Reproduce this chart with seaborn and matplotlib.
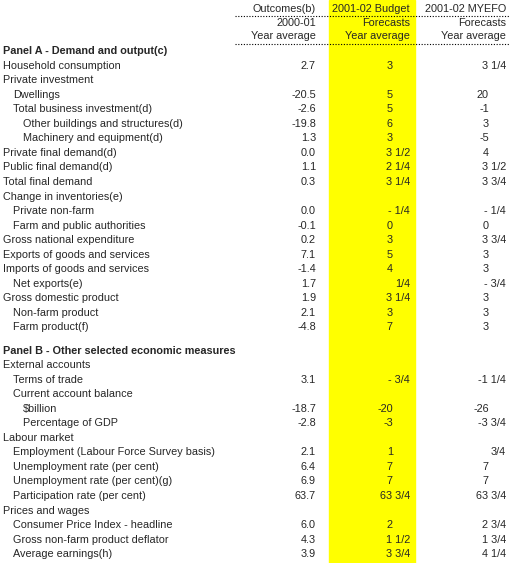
import matplotlib
matplotlib.use("Agg")
import matplotlib.pyplot as plt
import seaborn as sns

sns.set_theme(style="white")
plt.rcParams["font.family"] = ["Liberation Sans", "DejaVu Sans"]

# Row labels, indent level, and the three value columns
labels = [
    "Panel A - Demand and output(c)", "Household consumption", "Private investment",
    "Dwellings", "Total business investment(d)", "Other buildings and structures(d)",
    "Machinery and equipment(d)", "Private final demand(d)", "Public final demand(d)",
    "Total final demand", "Change in inventories(e)", "Private non-farm",
    "Farm and public authorities", "Gross national expenditure",
    "Exports of goods and services", "Imports of goods and services", "Net exports(e)",
    "Gross domestic product", "Non-farm product", "Farm product(f)", "",
    "Panel B - Other selected economic measures", "External accounts", "Terms of trade",
    "Current account balance", "$billion", "Percentage of GDP", "Labour market",
    "Employment (Labour Force Survey basis)", "Unemployment rate (per cent)",
    "Unemployment rate (per cent)(g)", "Participation rate (per cent)",
    "Prices and wages", "Consumer Price Index - headline",
    "Gross non-farm product deflator", "Average earnings(h)",
]
indent = [0, 0, 0, 1, 1, 2, 2, 0, 0, 0, 0, 1, 1, 0, 0, 0, 1, 0, 1, 1, 0,
          0, 0, 1, 1, 2, 2, 0, 1, 1, 1, 1, 0, 1, 1, 1]
outcomes = ["", "2.7", "", "-20.5", "-2.6", "-19.8", "1.3", "0.0", "1.1", "0.3", "",
            "0.0", "-0.1", "0.2", "7.1", "-1.4", "1.7", "1.9", "2.1", "-4.8", "",
            "", "", "3.1", "", "-18.7", "-2.8", "", "2.1", "6.4", "6.9", "63.7", "",
            "6.0", "4.3", "3.9"]
budget = ["", "3", "", "5", "5", "6", "3", "3 1/2", "2 1/4", "3 1/4", "",
          "- 1/4", "0", "3", "5", "4", "1/4", "3 1/4", "3", "7", "",
          "", "", "- 3/4", "", "-20", "-3", "", "1", "7", "7", "63 3/4", "",
          "2", "1 1/2", "3 3/4"]
myefo = ["", "3 1/4", "", "20", "-1", "3", "-5", "4", "3 1/2", "3 3/4", "",
         "- 1/4", "0", "3 3/4", "3", "3", "- 3/4", "3", "3", "3", "",
         "", "", "-1 1/4", "", "-26", "-3 3/4", "", "3/4", "7", "7", "63 3/4", "",
         "2 3/4", "1 3/4", "4 1/4"]
header1 = ["Outcomes(b)", "2001-02 Budget", "2001-02 MYEFO"]
header2 = ["2000-01", "Forecasts", "Forecasts"]
header3 = ["Year average", "Year average", "Year average"]

W, H = 510, 563
fig = plt.figure(figsize=(W / 100, H / 100), dpi=100)
ax = fig.add_axes([0, 0, 1, 1])
ax.set_xlim(0, W)
ax.set_ylim(H, 0)
ax.axis("off")

fs = 7.8
ax.axvspan(329, 415, color="#ffff00", zorder=0)

right_full = [316, 410, 506]
right_int = [316, 393, 489]

for i, h in enumerate([header1, header2, header3]):
    y = 9 + i * 13.6
    for j, t in enumerate(h):
        ax.text(right_full[j], y, t, ha="right", va="center", fontsize=fs)
for y in (16, 44):
    ax.plot([235, 509], [y, y], color="black", lw=0.8, ls=(0, (1, 1.5)))

y, dy = 51, 14.55
for k, lab in enumerate(labels):
    if not lab:
        y += 8.5
        continue
    bold = lab.startswith("Panel")
    ax.text(3 + indent[k] * 10, y, lab, ha="left", va="center", fontsize=fs,
            fontweight="bold" if bold else "normal")
    for j, col in enumerate([outcomes, budget, myefo]):
        v = col[k]
        if not v:
            continue
        x = right_full[j] if ("/" in v or j == 0) else right_int[j]
        ax.text(x, y, v, ha="right", va="center", fontsize=fs)
    y += dy

fig.savefig("out.png", dpi=100)
